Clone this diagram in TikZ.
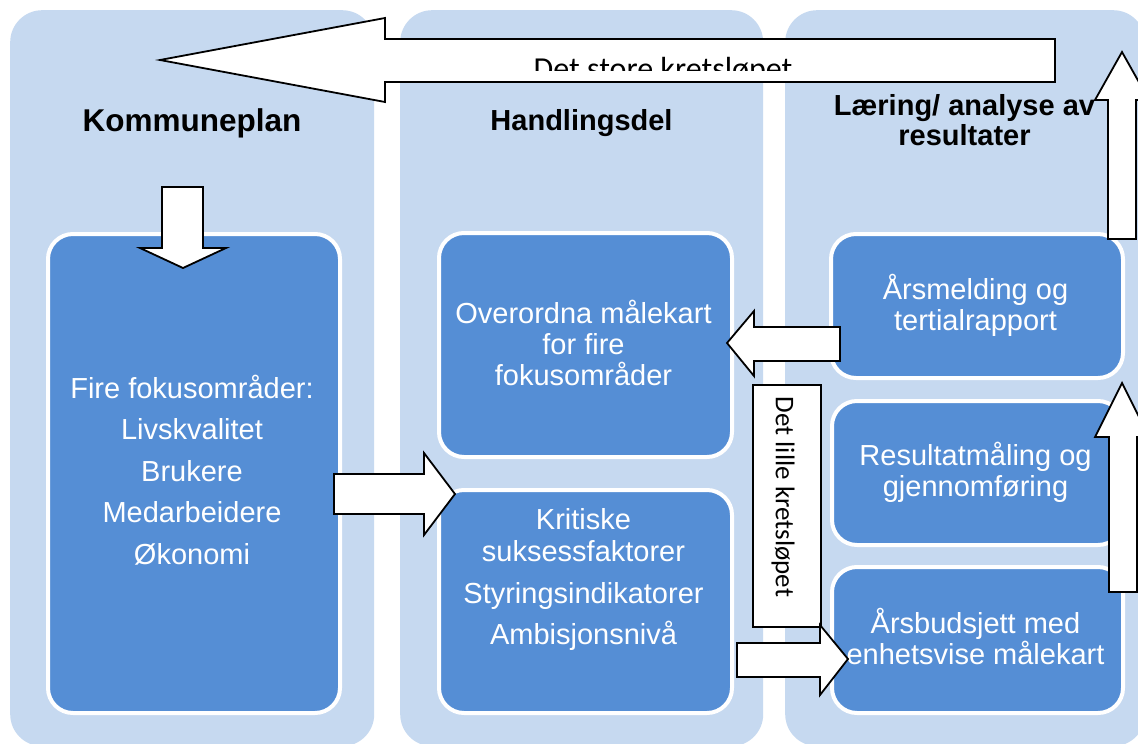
\documentclass[tikz,border=0pt]{standalone}
\usepackage{fontspec}
\setmainfont{Liberation Sans}
\newfontfamily\carl{Carlito}
\definecolor{colbg}{HTML}{C6D9F0}
\definecolor{boxbg}{HTML}{558ED5}
\tikzset{
  column/.style={fill=colbg, draw=none, rounded corners=32pt, rectangle, inner sep=0pt, anchor=north west},
  inbox/.style={fill=boxbg, draw=white, line width=4pt, rounded corners=25pt, rectangle, inner sep=0pt, anchor=north west},
  blockarrow/.style={fill=white, draw=black, line width=1.8pt, line join=miter},
  boxtext/.style={text=white, font=\fontsize{29}{31}\selectfont, align=center, inner sep=0pt},
  coltitle/.style={font=\bfseries\fontsize{29}{30}\selectfont, align=center, inner sep=0pt},
  looptext/.style={font=\carl\fontsize{32}{34}\selectfont, inner sep=0pt}
}
\begin{document}
\begin{tikzpicture}[x=1pt,y=-1pt]
\useasboundingbox (0,0) rectangle (1138,744);
\fill[white] (0,0) rectangle (1138,744);
% columns
\node[column, minimum width=364pt, minimum height=736pt] (c1) at (10,10) {};
\node[column, minimum width=363pt, minimum height=736pt] (c2) at (400,10) {};
\node[column, minimum width=360pt, minimum height=736pt] (c3) at (785,10) {};
% titles
\node[coltitle, font=\bfseries\fontsize{31.5}{33}\selectfont, anchor=base] (t1) at (192,131) {Kommuneplan};
\node[coltitle, anchor=base] (t2) at (581.5,130) {Handlingsdel};
\node[coltitle, anchor=center] (t3) at (964.5,120) {Læring/ analyse av\\resultater};
% inner boxes
\node[inbox, minimum width=292pt, minimum height=479pt] (b1) at (46,232) {};
\node[inbox, minimum width=293pt, minimum height=224pt] (b2) at (437,231) {};
\node[inbox, minimum width=293pt, minimum height=223pt] (b3) at (437,488) {};
\node[inbox, minimum width=292pt, minimum height=144pt] (b4) at (829,232) {};
\node[inbox, minimum width=291pt, minimum height=144pt] (b5) at (830,399) {};
\node[inbox, minimum width=291pt, minimum height=146pt] (b6) at (830,565) {};
% box texts
\node[boxtext] (x1) at (192,470) {Fire fokusområder:\\[10.5pt]Livskvalitet\\[10.5pt]Brukere\\[10.5pt]Medarbeidere\\[10.5pt]Økonomi};
\node[boxtext] (x2) at (583.5,343) {Overordna målekart\\for fire\\fokusområder};
\node[boxtext, font=\fontsize{29}{32}\selectfont] (x3) at (583.5,579) {Kritiske\\suksessfaktorer\\[10pt]Styringsindikatorer\\[9pt]Ambisjonsnivå};
\node[boxtext] (x4) at (975.5,305) {Årsmelding og\\tertialrapport};
\node[boxtext] (x5) at (975.5,472) {Resultatmåling og\\gjennomføring};
\node[boxtext] (x6) at (975.5,636) {Årsbudsjett med\\enhetsvise målekart};
% big loop arrow (Det store kretsløpet)
\draw[blockarrow] (160,60) -- (385,18) -- (385,39) -- (1055,39) -- (1055,82) -- (385,82) -- (385,102) -- cycle;
\begin{scope}
\clip (385,39) rectangle (1055,70);
\node[looptext, anchor=base] (bigloop) at (663,79) {Det store kretsløpet};
\end{scope}
% up arrows on the right
\draw[blockarrow] (1122,52) -- (1149,100) -- (1136,100) -- (1136,239) -- (1108,239) -- (1108,100) -- (1095,100) -- cycle;
\draw[blockarrow] (1122,383) -- (1149,437) -- (1137,437) -- (1137,592) -- (1109,592) -- (1109,437) -- (1095,437) -- cycle;
% down arrow into box 1
\draw[blockarrow] (162,187) -- (203,187) -- (203,248) -- (226,248) -- (183,268) -- (140,248) -- (162,248) -- cycle;
% right arrow box1 -> Kritiske
\draw[blockarrow] (334,474) -- (424,474) -- (424,453) -- (455,494) -- (424,535) -- (424,514) -- (334,514) -- cycle;
% left arrow Årsmelding -> Overordna
\draw[blockarrow] (840,327) -- (754,327) -- (754,311) -- (727,343) -- (754,376) -- (754,361) -- (840,361) -- cycle;
% small loop box
\node[draw=black, fill=white, line width=1.8pt, rectangle, minimum width=68pt, minimum height=242pt, inner sep=0pt, anchor=north west] (small) at (752,384) {};
\node[font=\carl\fontsize{27}{29}\selectfont, rotate=-90, inner sep=0pt] (smalltxt) at (783,497) {Det lille kretsløpet};
% right arrow Kritiske -> Årsbudsjett
\draw[blockarrow] (737,643) -- (820,643) -- (820,625) -- (848,659) -- (820,695) -- (820,677) -- (737,677) -- cycle;
\end{tikzpicture}
\end{document}
